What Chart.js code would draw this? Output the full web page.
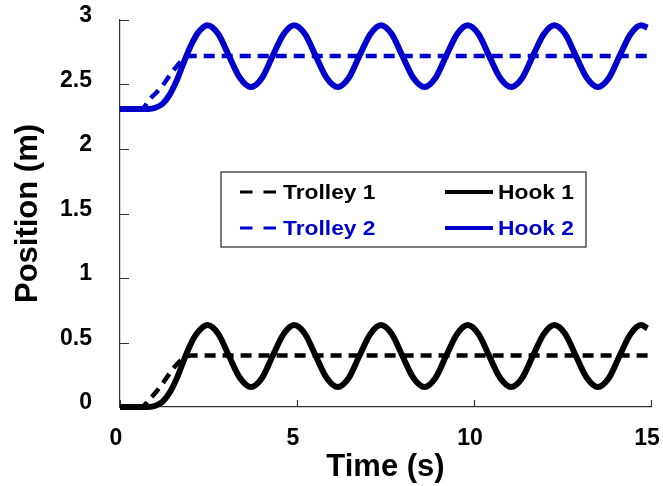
<!DOCTYPE html>
<html>
<head>
<meta charset="utf-8">
<script src="https://cdn.jsdelivr.net/npm/chart.js@4.4.1/dist/chart.umd.min.js"></script>
<style>
  body { margin: 0; background: #fff; }
  #wrap { width: 663px; height: 486px; }
</style>
</head>
<body>
<div id="wrap"><canvas id="grafico" width="663" height="486"></canvas></div>
<script>
// tempos (s) das curvas do gancho
const tempoGancho = [0, 0.8, 1.0, 1.2, 1.4, 1.6, 1.8, 2.0, 2.2,
    2.47, 2.78, 3.08, 3.39, 3.70, 4.01, 4.31, 4.62,
    4.92, 5.23, 5.53, 5.84, 6.15, 6.46, 6.76, 7.07,
    7.37, 7.68, 7.98, 8.29, 8.60, 8.91, 9.21, 9.52,
    9.82, 10.13, 10.43, 10.74, 11.05, 11.36, 11.66, 11.97,
    12.27, 12.58, 12.88, 13.19, 13.50, 13.81, 14.11, 14.42,
    14.72, 14.9];

const hook1 = [0, 0, 0.01, 0.04, 0.11, 0.22, 0.36, 0.49, 0.58,
    0.635, 0.565, 0.395, 0.225, 0.155, 0.225, 0.395, 0.565,
    0.635, 0.565, 0.395, 0.225, 0.155, 0.225, 0.395, 0.565,
    0.635, 0.565, 0.395, 0.225, 0.155, 0.225, 0.395, 0.565,
    0.635, 0.565, 0.395, 0.225, 0.155, 0.225, 0.395, 0.565,
    0.635, 0.565, 0.395, 0.225, 0.155, 0.225, 0.395, 0.565,
    0.635, 0.61];

const hook2 = [2.31, 2.31, 2.32, 2.35, 2.42, 2.53, 2.67, 2.80, 2.90,
    2.96, 2.89, 2.72, 2.55, 2.48, 2.55, 2.72, 2.89,
    2.96, 2.89, 2.72, 2.55, 2.48, 2.55, 2.72, 2.89,
    2.96, 2.89, 2.72, 2.55, 2.48, 2.55, 2.72, 2.89,
    2.96, 2.89, 2.72, 2.55, 2.48, 2.55, 2.72, 2.89,
    2.96, 2.89, 2.72, 2.55, 2.48, 2.55, 2.72, 2.89,
    2.96, 2.94];

// carrinho (trolley)
const tempoCarrinho = [0, 0.6, 0.85, 1.0, 1.2, 1.4, 1.6, 1.8, 2.0, 15];
const trolley1 = [0, 0, 0.065, 0.11, 0.18, 0.26, 0.33, 0.38, 0.40, 0.40];
const trolley2 = [2.31, 2.31, 2.39, 2.43, 2.49, 2.57, 2.64, 2.70, 2.72, 2.72];

const ticksX = [0, 5, 10, 15];
const ticksY = [0, 0.5, 1, 1.5, 2, 2.5, 3];

const PRETO = "#000000";
const AZUL = "#0000cc";
const FONTE = "'Liberation Sans', Arial, Helvetica, sans-serif";

function pares(ts, ys) {
    return ts.map((t, i) => ({ x: t, y: ys[i] }));
}

// marcas dos ticks para dentro do gráfico
const ticksDentro = {
    id: "ticksDentro",
    beforeDatasetsDraw(chart) {
        const { ctx, chartArea, scales } = chart;
        ctx.save();
        ctx.strokeStyle = "#333";
        ctx.lineWidth = 1.2;
        ctx.beginPath();
        ticksY.forEach(v => {
            const py = Math.round(scales.y.getPixelForValue(v)) + 0.5;
            ctx.moveTo(chartArea.left, py);
            ctx.lineTo(chartArea.left + 9, py);
        });
        ticksX.forEach(v => {
            const px = Math.round(scales.x.getPixelForValue(v)) + 0.5;
            ctx.moveTo(px, chartArea.bottom);
            ctx.lineTo(px, chartArea.bottom - 7);
        });
        ctx.stroke();
        ctx.restore();
    }
};

// legenda em caixa dentro do gráfico
const legendaCaixa = {
    id: "legendaCaixa",
    afterDatasetsDraw(chart) {
        const ctx = chart.ctx;
        ctx.save();
        ctx.fillStyle = "#fff";
        ctx.fillRect(221, 172, 365, 75);
        ctx.strokeStyle = "#333";
        ctx.lineWidth = 1.3;
        ctx.strokeRect(221, 172, 365, 75);

        const linhas = [192, 228];
        const cols = [
            { x0: 240, x1: 276, tx: 283 },
            { x0: 445, x1: 493, tx: 498 }
        ];
        chart.data.datasets.forEach((ds, i) => {
            const row = Math.floor(i / 2);
            const c = cols[i % 2];
            const y = linhas[row];
            ctx.beginPath();
            ctx.strokeStyle = ds.borderColor;
            ctx.lineWidth = ds.borderDash ? 3 : 4;
            ctx.setLineDash(ds.borderDash ? [12.5, 11] : []);
            ctx.moveTo(c.x0, y);
            ctx.lineTo(c.x1, y);
            ctx.stroke();
            ctx.setLineDash([]);

            ctx.save();
            ctx.translate(c.tx, y + 6.5);
            ctx.scale(1.14, 1);
            ctx.fillStyle = ds.borderColor;
            ctx.font = "bold 20px " + FONTE;
            ctx.textBaseline = "alphabetic";
            ctx.fillText(ds.label, 0, 0);
            ctx.restore();
        });
        ctx.restore();
    }
};

const grafico = document.getElementById("grafico");

new Chart(grafico, {
    type: "line",
    data: {
        datasets: [
            {
                label: "Trolley 1",
                data: pares(tempoCarrinho, trolley1),
                borderColor: PRETO,
                borderWidth: 4.5,
                borderDash: [11, 7],
            },
            {
                label: "Hook 1",
                data: pares(tempoGancho, hook1),
                borderColor: PRETO,
                borderWidth: 6,
            },
            {
                label: "Trolley 2",
                data: pares(tempoCarrinho, trolley2),
                borderColor: AZUL,
                borderWidth: 4.5,
                borderDash: [11, 7],
            },
            {
                label: "Hook 2",
                data: pares(tempoGancho, hook2),
                borderColor: AZUL,
                borderWidth: 6,
            },
        ],
    },
    options: {
        responsive: false,
        animation: false,
        layout: { padding: { left: 0, right: 12, top: 20, bottom: 0 } },
        elements: {
            point: { radius: 0 },
            line: {
                cubicInterpolationMode: "monotone",
                borderCapStyle: "butt",
                borderJoinStyle: "round",
                fill: false,
            },
        },
        datasets: { line: { clip: false } },
        plugins: {
            legend: { display: false },
            tooltip: { enabled: false },
        },
        scales: {
            x: {
                type: "linear",
                min: 0,
                max: 15,
                afterBuildTicks: s => { s.ticks = ticksX.map(v => ({ value: v })); },
                afterFit: s => { s.height = 79; s.paddingLeft = 0; s.paddingRight = 0; },
                grid: { display: false },
                border: { display: true, color: "#333", width: 1.2 },
                ticks: {
                    color: "#000",
                    padding: 10,
                    labelOffset: -4,
                    maxRotation: 0,
                    callback: v => String(v),
                    font: { family: FONTE, size: 23, weight: "bold" },
                },
                title: {
                    display: true,
                    text: "Time (s)",
                    color: "#000",
                    padding: 0,
                    font: { family: FONTE, size: 31, weight: "bold", lineHeight: 1.2 },
                },
            },
            y: {
                min: 0,
                max: 3,
                afterBuildTicks: s => { s.ticks = ticksY.map(v => ({ value: v })); },
                afterFit: s => { s.width = 120; s.paddingTop = 0; s.paddingBottom = 0; },
                grid: { display: false },
                border: { display: true, color: "#333", width: 1.2 },
                ticks: {
                    color: "#000",
                    padding: 20,
                    labelOffset: -4,
                    callback: v => String(v),
                    font: { family: FONTE, size: 23, weight: "bold" },
                },
                title: {
                    display: true,
                    text: "Position (m)",
                    color: "#000",
                    padding: { top: 10, bottom: 0 },
                    font: { family: FONTE, size: 31, weight: "bold", lineHeight: 1.2 },
                },
            },
        },
    },
    plugins: [ticksDentro, legendaCaixa],
});
</script>
</body>
</html>
